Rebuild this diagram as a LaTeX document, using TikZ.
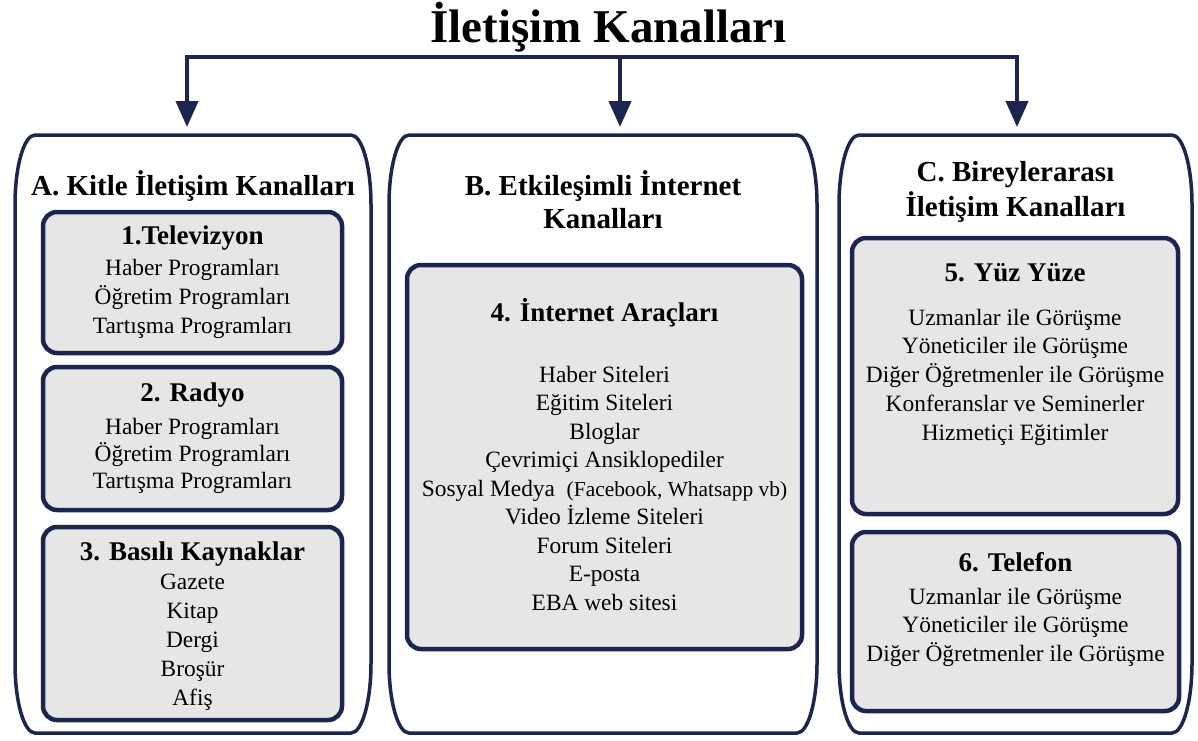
\documentclass[tikz,border=0pt]{standalone}
\usepackage{fontspec}
\setmainfont{Liberation Serif}
\usetikzlibrary{arrows.meta,calc}
\definecolor{navy}{HTML}{1B2550}
\definecolor{boxgray}{HTML}{E6E6E6}
\tikzset{
  framebox/.style={inner sep=0pt, outer sep=0pt, minimum width=#1, minimum height=598pt},
  frameline/.style={draw=navy, line width=3.5pt, fill=white},
  inbox/.style={draw=navy, line width=4.5pt, fill=boxgray, rounded corners=14pt, inner sep=0pt, outer sep=0pt},
  conn/.style={draw=navy, line width=4pt, -{Triangle[width=22pt,length=26pt]}, shorten >=8pt},
  titletext/.style={font=\fontsize{47}{56}\selectfont\bfseries, text=black},
  headtext/.style={font=\fontsize{29}{34}\selectfont\bfseries, align=center, text=black, inner sep=0pt},
  subtext/.style={font=\fontsize{27}{32}\selectfont\bfseries, align=center, text=black, inner sep=0pt},
  itemtext/.style={font=\fontsize{23.4}{#1}\selectfont, align=center, text=black, inner sep=0pt},
}
\newcommand\drawframe[1]{%
  \path[frameline]
    ($(#1.north west)+(20,0)$) -- ($(#1.north east)+(-20,0)$)
    .. controls ($(#1.north east)+(-9,0)$) and ($(#1.north east)+(0,31)$) .. ($(#1.north east)+(0,70)$)
    -- ($(#1.south east)+(0,-70)$)
    .. controls ($(#1.south east)+(0,-31)$) and ($(#1.south east)+(-9,0)$) .. ($(#1.south east)+(-20,0)$)
    -- ($(#1.south west)+(20,0)$)
    .. controls ($(#1.south west)+(9,0)$) and ($(#1.south west)+(0,-31)$) .. ($(#1.south west)+(0,-70)$)
    -- ($(#1.north west)+(0,70)$)
    .. controls ($(#1.north west)+(0,31)$) and ($(#1.north west)+(9,0)$) .. ($(#1.north west)+(20,0)$)
    -- cycle;}
\begin{document}
\begin{tikzpicture}[x=1pt,y=-1pt]
\useasboundingbox[fill=white] (0,0) rectangle (1198,740);

% title
\node[titletext, anchor=base] (title) at (608.5,42) {İletişim Kanalları};

% outer frames
\node[framebox=356pt] (A) at (193,434) {};
\node[framebox=428pt] (B) at (603,434) {};
\node[framebox=353pt] (C) at (1015.5,434) {};
\drawframe{A}
\drawframe{B}
\drawframe{C}

% connectors
\coordinate (barL) at (187,57);
\coordinate (barC) at (620,57);
\coordinate (barR) at (1017,57);
\draw[conn] (barC) -- (barL) -- (barL |- A.north);
\draw[conn] (barC) -- (barR) -- (barR |- C.north);
\draw[conn] (barC) -- (barC |- B.north);

% headings
\node[headtext] (Ah) at (193,186) {A. Kitle İletişim Kanalları};
\node[headtext, font=\fontsize{29}{33}\selectfont\bfseries] (Bh) at (603,200) {B. Etkileşimli İnternet\\Kanalları};
\node[headtext, font=\fontsize{29}{35}\selectfont\bfseries] (Ch) at (1015.5,192) {C. Bireylerarası\\İletişim Kanalları};

% inner boxes
\node[inbox, minimum width=299pt, minimum height=141pt] (tv) at (192.5,282.5) {};
\node[inbox, minimum width=299pt, minimum height=143pt] (radio) at (192.5,438.5) {};
\node[inbox, minimum width=299pt, minimum height=193pt] (print) at (192.5,623.5) {};
\node[inbox, minimum width=395pt, minimum height=384pt] (net) at (604.5,457) {};
\node[inbox, minimum width=326pt, minimum height=276pt] (face) at (1015,376) {};
\node[inbox, minimum width=327pt, minimum height=179pt] (phone) at (1015.5,621.5) {};

% box contents
\node[subtext] (tvh) at (192.5,238) {1.Televizyon};
\node[itemtext=29pt] (tvi) at (192.5,299) {Haber Programları\\Öğretim Programları\\Tartışma Programları};

\node[subtext] (radioh) at (192.5,395) {2. Radyo};
\node[itemtext=27pt] (radioi) at (192.5,456) {Haber Programları\\Öğretim Programları\\Tartışma Programları};

\node[subtext] (printh) at (192.5,554) {3. Basılı Kaynaklar};
\node[itemtext=29pt] (printi) at (192.5,642) {Gazete\\Kitap\\Dergi\\Broşür\\Afiş};

\node[subtext] (neth) at (604.5,313) {4. İnternet Araçları};
\node[itemtext=28.5pt] (neti) at (604.5,488) {Haber Siteleri\\Eğitim Siteleri\\Bloglar\\Çevrimiçi Ansiklopediler\\Sosyal Medya\ \ {\fontsize{21.4}{28.5}\selectfont(Facebook, Whatsapp vb)}\\Video İzleme Siteleri\\Forum Siteleri\\E-posta\\EBA web sitesi};

\node[subtext] (faceh) at (1015,273) {5. Yüz Yüze};
\node[itemtext=28.75pt] (facei) at (1015,377) {Uzmanlar ile Görüşme\\Yöneticiler ile Görüşme\\Diğer Öğretmenler ile Görüşme\\Konferanslar ve Seminerler\\Hizmetiçi Eğitimler};

\node[subtext] (phoneh) at (1015.5,562) {6. Telefon};
\node[itemtext=28.5pt] (phonei) at (1015.5,627) {Uzmanlar ile Görüşme\\Yöneticiler ile Görüşme\\Diğer Öğretmenler ile Görüşme};
\end{tikzpicture}
\end{document}
